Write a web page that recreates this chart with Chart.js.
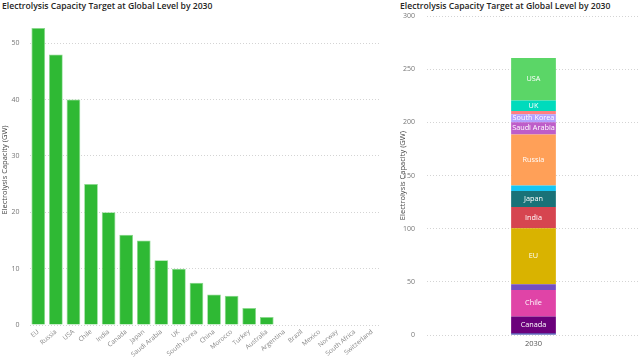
<!DOCTYPE html>
<html>
<head>
<meta charset="utf-8">
<script src="https://cdn.jsdelivr.net/npm/chart.js@4"></script>
<style>
  body { margin: 0; background: #fff; width: 642px; height: 360px; overflow: hidden; position: relative; font-family: "Open Sans", sans-serif; }
  .title { position: absolute; top: 0; font-size: 8.6px; font-weight: 600; color: #252423; white-space: nowrap; }
  #left { position: absolute; left: 0; top: 0; }
  #right { position: absolute; left: 390px; top: 0; }
</style>
</head>
<body>
<div class="title" style="left:2px">Electrolysis Capacity Target at Global Level by 2030</div>
<div class="title" style="left:400px">Electrolysis Capacity Target at Global Level by 2030</div>
<canvas id="left" width="390" height="360"></canvas>
<canvas id="right" width="252" height="360"></canvas>
<script>
  const countries = ['EU', 'Russia', 'USA', 'Chile', 'India', 'Canada', 'Japan', 'Saudi Arabia', 'UK', 'South Korea',
    'China', 'Morocco', 'Turkey', 'Australia', 'Argentina', 'Brazil', 'Mexico', 'Norway', 'South Africa', 'Switzerland'];
  const capacityGW = [52.7, 48, 40, 25, 20, 16, 15, 11.5, 10, 7.5, 5.4, 5.2, 3, 1.4, 0, 0, 0, 0, 0, 0];
  const years = ['2030'];
  const leftTicks = [0, 10, 20, 30, 40, 50];
  const rightTicks = [0, 50, 100, 150, 200, 250, 300];

  const colors = {
    'Argentina': '#118DFF', 'Australia': '#12239E', 'Brazil': '#E66C37', 'Canada': '#6B007B', 'Chile': '#E044A7',
    'China': '#744EC2', 'EU': '#D9B300', 'India': '#D64550', 'Japan': '#197278', 'Mexico': '#1AAB40',
    'Morocco': '#15C6F4', 'Norway': '#4092FF', 'Russia': '#FFA058', 'Saudi Arabia': '#BE5DC9', 'South Africa': '#F472D0',
    'South Korea': '#B5A1FF', 'Switzerland': '#C4A200', 'Turkey': '#FF8080', 'UK': '#00DBBC', 'USA': '#5BD667'
  };

  const font = 'Open Sans';
  const gridStyle = { color: '#d4d4d4', lineWidth: 1, drawTicks: false };

  // left: bar per country
  new Chart(document.getElementById('left'), {
    type: 'bar',
    data: {
      labels: countries,
      datasets: [{
        data: capacityGW,
        backgroundColor: '#2FB934',
        borderColor: '#8ad98d',
        borderWidth: 0.8,
        barPercentage: 0.78,
        categoryPercentage: 1
      }]
    },
    options: {
      responsive: false,
      animation: false,
      layout: { padding: { top: 15, right: 9 } },
      plugins: { legend: { display: false }, tooltip: { enabled: false } },
      scales: {
        y: {
          min: 0, max: 55,
          afterBuildTicks: s => { s.ticks = leftTicks.map(v => ({ value: v })); },
          afterFit: s => { s.width = 29.5; },
          border: { display: false, dash: [1, 2] },
          grid: gridStyle,
          ticks: { color: '#777', font: { family: font, size: 7 }, padding: 10 },
          title: { display: true, text: 'Electrolysis Capacity (GW)', color: '#444', font: { family: font, size: 7.5 }, padding: 0 }
        },
        x: {
          afterFit: s => { s.height = 35; },
          border: { display: false },
          grid: { display: false },
          ticks: { color: '#888', font: { family: font, size: 6.5 }, minRotation: 40, maxRotation: 40, autoSkip: false, padding: -5 }
        }
      }
    }
  });

  // right: stacked, countries in alphabetical order bottom to top
  const stacked = countries.map((c, i) => ({ name: c, value: capacityGW[i] }))
    .sort((a, b) => a.name.localeCompare(b.name));

  const segmentLabels = {
    id: 'segmentLabels',
    afterDatasetsDraw(chart) {
      const ctx = chart.ctx;
      ctx.save();
      ctx.fillStyle = '#fff';
      ctx.font = '7.3px "Open Sans"';
      ctx.textAlign = 'center';
      ctx.textBaseline = 'middle';
      chart.data.datasets.forEach((ds, i) => {
        if (ds.data[0] < 7) return;
        const el = chart.getDatasetMeta(i).data[0];
        ctx.fillText(ds.label, el.x, (el.y + el.base) / 2);
      });
      ctx.restore();
    }
  };

  new Chart(document.getElementById('right'), {
    type: 'bar',
    data: {
      labels: years,
      datasets: stacked.map(s => ({
        label: s.name,
        data: [s.value],
        backgroundColor: colors[s.name],
        barPercentage: 0.21,
        categoryPercentage: 1
      }))
    },
    options: {
      responsive: false,
      animation: false,
      layout: { padding: { top: 16, right: 2 } },
      plugins: { legend: { display: false }, tooltip: { enabled: false } },
      scales: {
        y: {
          stacked: true,
          min: 0, max: 300,
          afterBuildTicks: s => { s.ticks = rightTicks.map(v => ({ value: v })); },
          afterFit: s => { s.width = 37; },
          border: { display: false, dash: [1, 2] },
          grid: gridStyle,
          ticks: { color: '#777', font: { family: font, size: 7 }, padding: 12 },
          title: { display: true, text: 'Electrolysis Capacity (GW)', color: '#444', font: { family: font, size: 7.5 }, padding: { top: 8, bottom: 0 } }
        },
        x: {
          stacked: true,
          afterFit: s => { s.height = 25; },
          border: { display: false },
          grid: { display: false },
          ticks: { color: '#555', font: { family: font, size: 7.5 }, padding: -4 }
        }
      }
    },
    plugins: [segmentLabels]
  });
</script>
</body>
</html>
